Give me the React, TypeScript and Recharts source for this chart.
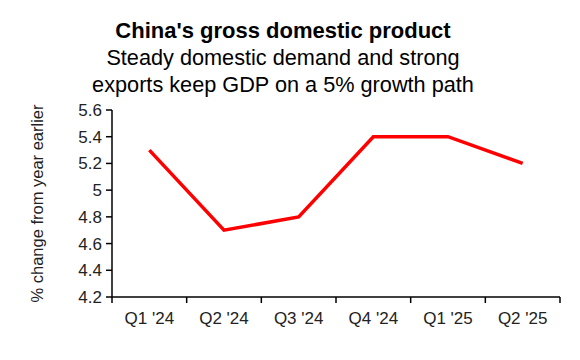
import { LineChart, Line, XAxis, YAxis } from 'recharts';

const quarters = ["Q1 '24", "Q2 '24", "Q3 '24", "Q4 '24", "Q1 '25", "Q2 '25"];
const gdpGrowth = [5.3, 4.7, 4.8, 5.4, 5.4, 5.2];
const yTicks = [4.2, 4.4, 4.6, 4.8, 5, 5.2, 5.4, 5.6];

const data = quarters.map((q, i) => ({ quarter: q, value: gdpGrowth[i] }));

const FONT = '"Liberation Sans", Arial, sans-serif';

const CHART_W = 580;
const MARGIN = { top: 110, right: 20, bottom: 0, left: 0 };
const Y_AXIS_W = 112;
const TICK_SIZE = 6;
const TICK_MARGIN = 9;
const BAND = (CHART_W - MARGIN.left - MARGIN.right - Y_AXIS_W) / quarters.length;

// Category label at band centre, tick marks at band edges (like Excel)
const QuarterTick = (props: any) => {
  const { x, y, payload, index } = props;
  const axisY = y - TICK_SIZE - TICK_MARGIN;
  const left = x - BAND / 2;
  const right = x + BAND / 2;
  return (
    <g>
      <line x1={left} y1={axisY} x2={left} y2={axisY + TICK_SIZE} stroke="#000" strokeWidth={1.5} />
      {index === quarters.length - 1 && (
        <line x1={right} y1={axisY} x2={right} y2={axisY + TICK_SIZE} stroke="#000" strokeWidth={1.5} />
      )}
      <text x={x} y={y} dy="0.71em" textAnchor="middle" fill="#222" fontSize={17} fontFamily={FONT}>
        {payload.value}
      </text>
    </g>
  );
};

const App = () => {
  return (
    <div style={{ position: 'absolute', left: 0, top: 0, width: 580, height: 360, background: '#fff', fontFamily: FONT }}>
      {/* Title block */}
      <div style={{ position: 'absolute', left: 0, top: 17, width: 566, textAlign: 'center', color: '#000' }}>
        <div style={{ fontSize: 22, fontWeight: 'bold', lineHeight: '27px' }}>China's gross domestic product</div>
        <div style={{ fontSize: 21.7, lineHeight: '27px' }}>Steady domestic demand and strong</div>
        <div style={{ fontSize: 21.7, lineHeight: '27px' }}>exports keep GDP on a 5% growth path</div>
      </div>

      <LineChart
        width={CHART_W}
        height={360}
        data={data}
        margin={MARGIN}
        style={{ position: 'absolute', left: 0, top: 0 }}
      >
        <XAxis
          dataKey="quarter"
          scale="band"
          axisLine={{ stroke: '#000', strokeWidth: 1.5 }}
          tickLine={false}
          tickSize={TICK_SIZE}
          tickMargin={TICK_MARGIN}
          height={63}
          interval={0}
          tick={<QuarterTick />}
        />
        <YAxis
          width={Y_AXIS_W}
          domain={[4.2, 5.6]}
          ticks={yTicks}
          interval={0}
          tickSize={6}
          tickMargin={4}
          axisLine={{ stroke: '#000', strokeWidth: 1.5 }}
          tickLine={{ stroke: '#000', strokeWidth: 1.5 }}
          tick={{ fill: '#222', fontSize: 17, fontFamily: FONT }}
          tickFormatter={(v: number) => (v === 5 ? '5' : v.toFixed(1))}
          label={{
            value: '% change from year earlier',
            angle: -90,
            position: 'insideLeft',
            offset: 37,
            style: { textAnchor: 'middle', fill: '#222', fontSize: 16.5, fontFamily: FONT },
          }}
        />
        <Line
          type="linear"
          dataKey="value"
          stroke="#ff0000"
          strokeWidth={3.5}
          dot={false}
          isAnimationActive={false}
        />
      </LineChart>
    </div>
  );
};

export default App;
